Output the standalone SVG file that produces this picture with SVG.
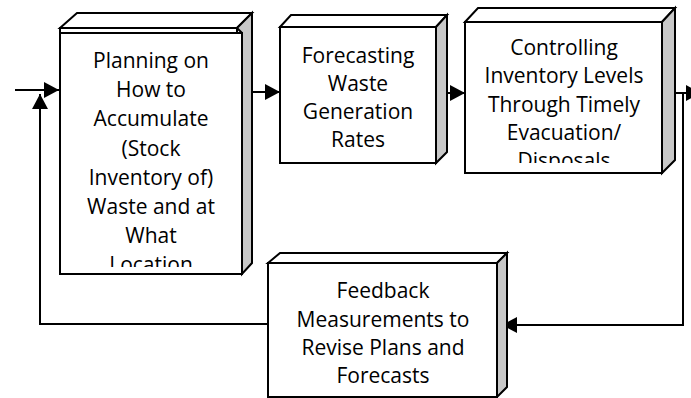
<svg xmlns="http://www.w3.org/2000/svg" width="691" height="398" viewBox="0 0 691 398">
<defs>
<style>
.face{fill:#ffffff;stroke:#000;stroke-width:2;stroke-linejoin:miter}
.side{fill:#c8c8c8;stroke:#000;stroke-width:2}
.t{font-family:"Open Sans","Liberation Sans",sans-serif;font-size:21px;fill:#000;text-anchor:middle}
.c{fill:none;stroke:#000;stroke-width:2}
</style>
<marker id="ah" markerUnits="userSpaceOnUse" markerWidth="16" markerHeight="16" refX="15" refY="8" orient="auto">
<path d="M0,0 L15,8 L0,16 Z" fill="#000"/>
</marker>
<clipPath id="clip1"><rect x="60" y="33" width="182" height="234"/></clipPath>
<clipPath id="clip3"><rect x="465" y="22" width="197" height="141"/></clipPath>
</defs>
<rect width="691" height="398" fill="#fff"/>

<g id="connectors">
<path class="c" d="M15,90 H59" marker-end="url(#ah)"/>
<path class="c" d="M268,324 H40 V94" marker-end="url(#ah)"/>
<path class="c" d="M245,92 H280" marker-end="url(#ah)"/>
<path class="c" d="M428,93 H465" marker-end="url(#ah)"/>
<path class="c" d="M666,93 H701" marker-end="url(#ah)"/>
<path class="c" d="M683,93 V325 H502" marker-end="url(#ah)"/>
</g>

<g id="node-planning">
<polygon class="face" points="60,28 77,13 252,13 237,28"/>
<polygon class="side" points="237,28 252,13 252,263 242,274 242,33"/>
<rect class="face" x="60" y="28" width="177" height="5"/>
<rect class="face" x="60" y="33" width="182" height="241"/>
<g clip-path="url(#clip1)">
<text class="t" x="151" y="68">Planning on</text>
<text class="t" x="151" y="97">How to</text>
<text class="t" x="151" y="126">Accumulate</text>
<text class="t" x="151" y="156">(Stock</text>
<text class="t" x="151" y="185">Inventory of)</text>
<text class="t" x="151" y="214">Waste and at</text>
<text class="t" x="151" y="243">What</text>
<text class="t" x="151" y="272">Location</text>
</g>
</g>

<g id="node-forecasting">
<polygon class="face" points="280,27 291,15 447,15 436,27"/>
<polygon class="side" points="436,27 447,15 447,152 436,163"/>
<rect class="face" x="280" y="27" width="156" height="136"/>
<text class="t" x="358" y="63">Forecasting</text>
<text class="t" x="358" y="91">Waste</text>
<text class="t" x="358" y="119">Generation</text>
<text class="t" x="358" y="147">Rates</text>
</g>

<g id="node-controlling">
<polygon class="face" points="465,22 478,8 675,8 662,22"/>
<polygon class="side" points="662,22 675,8 675,160 662,173"/>
<rect class="face" x="465" y="22" width="197" height="151"/>
<g clip-path="url(#clip3)">
<text class="t" x="564" y="55">Controlling</text>
<text class="t" x="564" y="83">Inventory Levels</text>
<text class="t" x="564" y="112">Through Timely</text>
<text class="t" x="564" y="140">Evacuation/</text>
<text class="t" x="564" y="168">Disposals</text>
</g>
</g>

<g id="node-feedback">
<polygon class="face" points="268,263 280,253 507,253 497,263"/>
<polygon class="side" points="497,263 507,253 507,387 497,397"/>
<rect class="face" x="268" y="263" width="229" height="134"/>
<text class="t" x="383" y="298">Feedback</text>
<text class="t" x="383" y="327">Measurements to</text>
<text class="t" x="383" y="355">Revise Plans and</text>
<text class="t" x="383" y="383">Forecasts</text>
</g>
</svg>
